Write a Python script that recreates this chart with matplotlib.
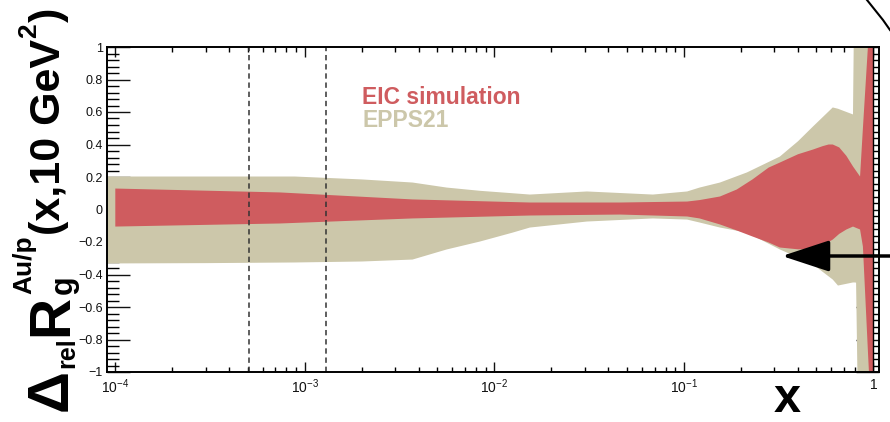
import matplotlib
matplotlib.use('Agg')
import matplotlib.pyplot as plt
from matplotlib.ticker import FixedLocator, MultipleLocator, NullFormatter, FixedFormatter
from matplotlib.lines import Line2D

plt.rcParams['font.family'] = ['Liberation Sans', 'DejaVu Sans']
plt.rcParams['mathtext.fontset'] = 'custom'
plt.rcParams['mathtext.rm'] = 'Liberation Sans'
plt.rcParams['mathtext.it'] = 'Liberation Sans:italic'
plt.rcParams['mathtext.bf'] = 'Liberation Sans:bold'

# ---------------- data ----------------
epps_x = [9.0e-5, 3.0e-4, 8.85e-4, 2.0e-3, 3.7e-3, 5.6e-3, 8.4e-3, 1.25e-2, 1.54e-2,
          3.08e-2, 6.86e-2, 0.104, 0.121, 0.155, 0.215, 0.321, 0.40, 0.48, 0.61, 0.65,
          0.78, 0.795, 0.81, 0.835, 1.0]
epps_up = [0.203, 0.203, 0.203, 0.185, 0.166, 0.135, 0.115, 0.100, 0.092,
           0.111, 0.092, 0.111, 0.135, 0.166, 0.228, 0.326, 0.42, 0.511, 0.628, 0.62,
           0.585, 1.5, 1.5, 1.5, 1.5]
epps_lo = [-0.332, -0.330, -0.326, -0.320, -0.308, -0.246, -0.197, -0.142, -0.111,
           -0.074, -0.055, -0.062, -0.080, -0.111, -0.142, -0.246, -0.295, -0.338, -0.431, -0.468,
           -0.449, -0.449, -0.45, -1.5, -1.5]

eic_x = [1.0e-4, 7.4e-4, 3.7e-3, 1.54e-2, 4.6e-2, 0.104, 0.121, 0.155, 0.19, 0.23, 0.28,
         0.321, 0.40, 0.48, 0.54, 0.58, 0.61, 0.66, 0.72, 0.78, 0.85, 0.88, 0.935, 0.947, 1.0]
eic_up = [0.129, 0.105, 0.062, 0.043, 0.043, 0.049, 0.058, 0.080, 0.123, 0.185, 0.258,
          0.289, 0.34, 0.369, 0.39, 0.40, 0.40, 0.382, 0.33, 0.265, 0.203, 0.5, 1.0, 1.5, 1.5]
eic_lo = [-0.105, -0.086, -0.055, -0.037, -0.031, -0.043, -0.055, -0.092, -0.129, -0.166, -0.203,
          -0.234, -0.245, -0.246, -0.228, -0.20, -0.185, -0.15, -0.123, -0.105, -0.123, -0.228,
          -0.87, -1.0, -1.5]

vlines_x = [5.1e-4, 1.29e-3]

xtick_vals = [1e-4, 1e-3, 1e-2, 1e-1, 1.0]
xtick_labels = [r'$10^{-4}$', r'$10^{-3}$', r'$10^{-2}$', r'$10^{-1}$', '1']
ytick_vals = [-1, -0.8, -0.6, -0.4, -0.2, 0, 0.2, 0.4, 0.6, 0.8, 1]
ytick_labels = ['\u22121', '\u22120.8', '\u22120.6', '\u22120.4', '\u22120.2', '0',
                '0.2', '0.4', '0.6', '0.8', '1']

legend_labels = ['EIC simulation', 'EPPS21']
ylabel_parts = ['\u0394', 'rel', 'R', 'g', 'Au/p', '(x,10 GeV', '2', ')']
xlabel_text = 'x'

RED = '#cf5c5f'
TAN = '#ccc7aa'

# ---------------- figure ----------------
W, H = 890, 422
fig = plt.figure(figsize=(W / 100, H / 100), dpi=100)
L, R_, T, B = 107, 879, 47, 372
ax = fig.add_axes([L / W, (H - B) / H, (R_ - L) / W, (B - T) / H])
ax.set_xscale('log')
ax.set_xlim(9.04e-5, 1.07)
ax.set_ylim(-1, 1)
ax.set_axisbelow(True)

ax.fill_between(epps_x, epps_lo, epps_up, color=TAN, lw=0, zorder=1)
ax.fill_between(eic_x, eic_lo, eic_up, color=RED, lw=0, zorder=1.1)
ax.axvline(1.0, color='black', lw=1.0, zorder=3)

for xv in vlines_x:
    ax.axvline(xv, color='#333333', lw=1.1, ls=(0, (3.5, 2.5)), zorder=3)

# ticks
ax.xaxis.set_major_locator(FixedLocator(xtick_vals))
ax.xaxis.set_major_formatter(FixedFormatter(xtick_labels))
minors = [m * 10.0 ** e for e in range(-5, 1) for m in range(2, 10)]
ax.xaxis.set_minor_locator(FixedLocator(minors))
ax.xaxis.set_minor_formatter(NullFormatter())
ax.yaxis.set_major_locator(FixedLocator(ytick_vals))
ax.yaxis.set_major_formatter(FixedFormatter(ytick_labels))
ax.yaxis.set_minor_locator(MultipleLocator(0.04))

ax.tick_params(axis='x', which='major', direction='in', length=7.2, width=1.0,
               top=True, bottom=True, labelsize=10, pad=4, colors='#111111')
ax.tick_params(axis='x', which='minor', direction='in', length=3.6, width=1.0,
               top=True, bottom=True)
ax.tick_params(axis='y', which='major', direction='in', length=16.6, width=1.0,
               left=True, right=True, labelsize=9, pad=3, colors='#111111')
ax.tick_params(axis='y', which='minor', direction='in', length=8.3, width=1.0,
               left=True, right=True)
for s in ax.spines.values():
    s.set_linewidth(1.4)
    s.set_zorder(4)

# legend text
fig.text(362 / W, (H - 104) / H, legend_labels[0],
         fontsize=16.5, fontweight='bold', color=RED, ha='left', va='baseline')
fig.text(362 / W, (H - 127) / H, legend_labels[1],
         fontsize=16.5, fontweight='bold', color=TAN, ha='left', va='baseline')

# x axis title
fig.text(787 / W, (H - 412) / H, xlabel_text, fontsize=35, fontweight='bold',
         ha='center', va='baseline')

# y axis title, built from pieces (rotated, read bottom to top)
renderer = fig.canvas.get_renderer()


def vtext(s, xb, ystart_top, size):
    """xb: baseline column (px from left); ystart_top: start of the text (px from top).
    Returns where the text ends (px from top)."""
    t = fig.text(xb / W, (H - ystart_top) / H, s, rotation=90, rotation_mode='anchor',
                 ha='left', va='baseline', fontsize=size, fontweight='bold')
    bb = t.get_window_extent(renderer)
    return H - bb.y1


y = 411
y = vtext(ylabel_parts[0], 67, y, 42)          # Delta
y = vtext(ylabel_parts[1], 74, y - 1, 18)      # rel (subscript)
y = vtext(ylabel_parts[2], 67, y - 1, 41)      # R
yg = vtext(ylabel_parts[3], 72, y - 1, 22)     # g (subscript)
ya = vtext(ylabel_parts[4], 31, y - 1, 19)     # Au/p (superscript)
y = min(yg, ya)
y = vtext(ylabel_parts[5], 60, y - 1, 31)      # (x,10 GeV
y = vtext(ylabel_parts[6], 36, y - 1, 19)      # 2 (superscript)
vtext(ylabel_parts[7], 60, y - 1, 31)          # )

# arrow annotation
ax.annotate('', xy=(782, H - 256), xytext=(893, H - 256), xycoords='figure pixels',
            textcoords='figure pixels',
            arrowprops=dict(arrowstyle='-|>,head_length=2.95,head_width=0.97',
                            lw=2.5, color='black', mutation_scale=10,
                            shrinkA=0, shrinkB=0))

# partial circle at top right
fig.add_artist(Line2D([867 / W, 875 / W, 883 / W, 890 / W],
                      [(H - 0) / H, (H - 10) / H, (H - 20) / H, (H - 30) / H],
                      transform=fig.transFigure, color='black', lw=1.5))

fig.savefig('out.png', dpi=100)
